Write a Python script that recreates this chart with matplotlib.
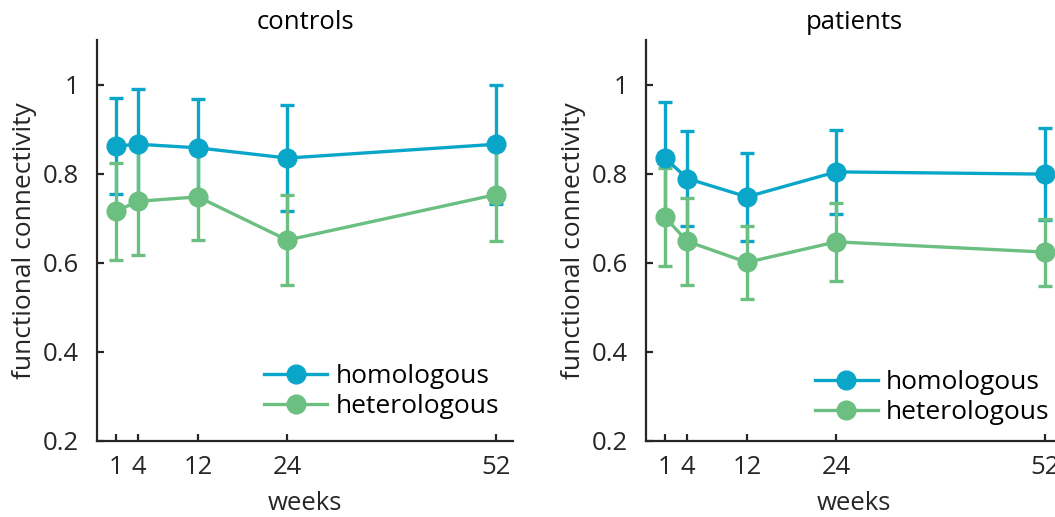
import matplotlib
matplotlib.use("Agg")
import matplotlib.pyplot as plt
from matplotlib.lines import Line2D

plt.rcParams['font.family'] = ['Open Sans', 'DejaVu Sans']

weeks = [1, 4, 12, 24, 52]
week_labels = ['1', '4', '12', '24', '52']

controls_homo = [0.862, 0.866, 0.858, 0.835, 0.866]
controls_homo_err = [0.108, 0.124, 0.110, 0.118, 0.133]
controls_hetero = [0.716, 0.738, 0.748, 0.651, 0.753]
controls_hetero_err = [0.109, 0.121, 0.097, 0.101, 0.105]

patients_homo = [0.835, 0.789, 0.748, 0.804, 0.799]
patients_homo_err = [0.125, 0.107, 0.098, 0.094, 0.103]
patients_hetero = [0.702, 0.648, 0.601, 0.647, 0.624]
patients_hetero_err = [0.110, 0.097, 0.082, 0.088, 0.075]

panels = [
    ('controls', controls_homo, controls_homo_err, controls_hetero, controls_hetero_err),
    ('patients', patients_homo, patients_homo_err, patients_hetero, patients_hetero_err),
]

blue = '#0aa6c9'
green = '#6bbf80'
ink = '#262626'
fs = 18.5

fig = plt.figure(figsize=(10.55, 5.17), dpi=100)
lefts = [97 / 1055, 646 / 1055]
width = 416 / 1055
bottom = 76 / 517
height = 401 / 517
legend_anchor = [(1.004, 0.015), (1.008, 0.0)]

for left, anchor, (title, homo, homo_err, het, het_err) in zip(lefts, legend_anchor, panels):
    ax = fig.add_axes([left, bottom, width, height])
    style = dict(fmt='-o', lw=2.4, ms=13.5, elinewidth=2.4, capsize=5, capthick=2.4)
    ax.errorbar(weeks, homo, yerr=homo_err, color=blue, **style)
    ax.errorbar(weeks, het, yerr=het_err, color=green, **style)
    ax.set_xlim(-1.55, 54.3)
    ax.set_ylim(0.2, 1.1)
    ax.set_xticks(weeks)
    ax.set_xticklabels(week_labels)
    ax.set_yticks([0.2, 0.4, 0.6, 0.8, 1.0])
    ax.set_yticklabels(['0.2', '0.4', '0.6', '0.8', '1'])
    for side in ('top', 'right'):
        ax.spines[side].set_visible(False)
    for side in ('left', 'bottom'):
        ax.spines[side].set_linewidth(1.6)
        ax.spines[side].set_color(ink)
    ax.tick_params(direction='in', length=5, width=1.6, color=ink,
                   labelsize=fs, labelcolor=ink)
    ax.tick_params(axis='x', pad=10)
    ax.tick_params(axis='y', pad=13)
    ax.set_title(title, fontsize=fs, color='black', pad=8)
    ax.set_xlabel('weeks', fontsize=fs, color=ink, labelpad=8)
    ax.set_ylabel('functional connectivity', fontsize=fs + 0.5, color=ink, labelpad=4)
    handles = [
        Line2D([], [], color=blue, lw=2.4, marker='o', ms=13.5),
        Line2D([], [], color=green, lw=2.4, marker='o', ms=13.5),
    ]
    ax.legend(handles, ['homologous', 'heterologous'], loc='lower right',
              bbox_to_anchor=anchor, frameon=False, fontsize=fs + 0.5,
              handlelength=2.4, handletextpad=0.3, labelspacing=0.2,
              borderaxespad=0.2)

fig.savefig('out.png', dpi=100)
